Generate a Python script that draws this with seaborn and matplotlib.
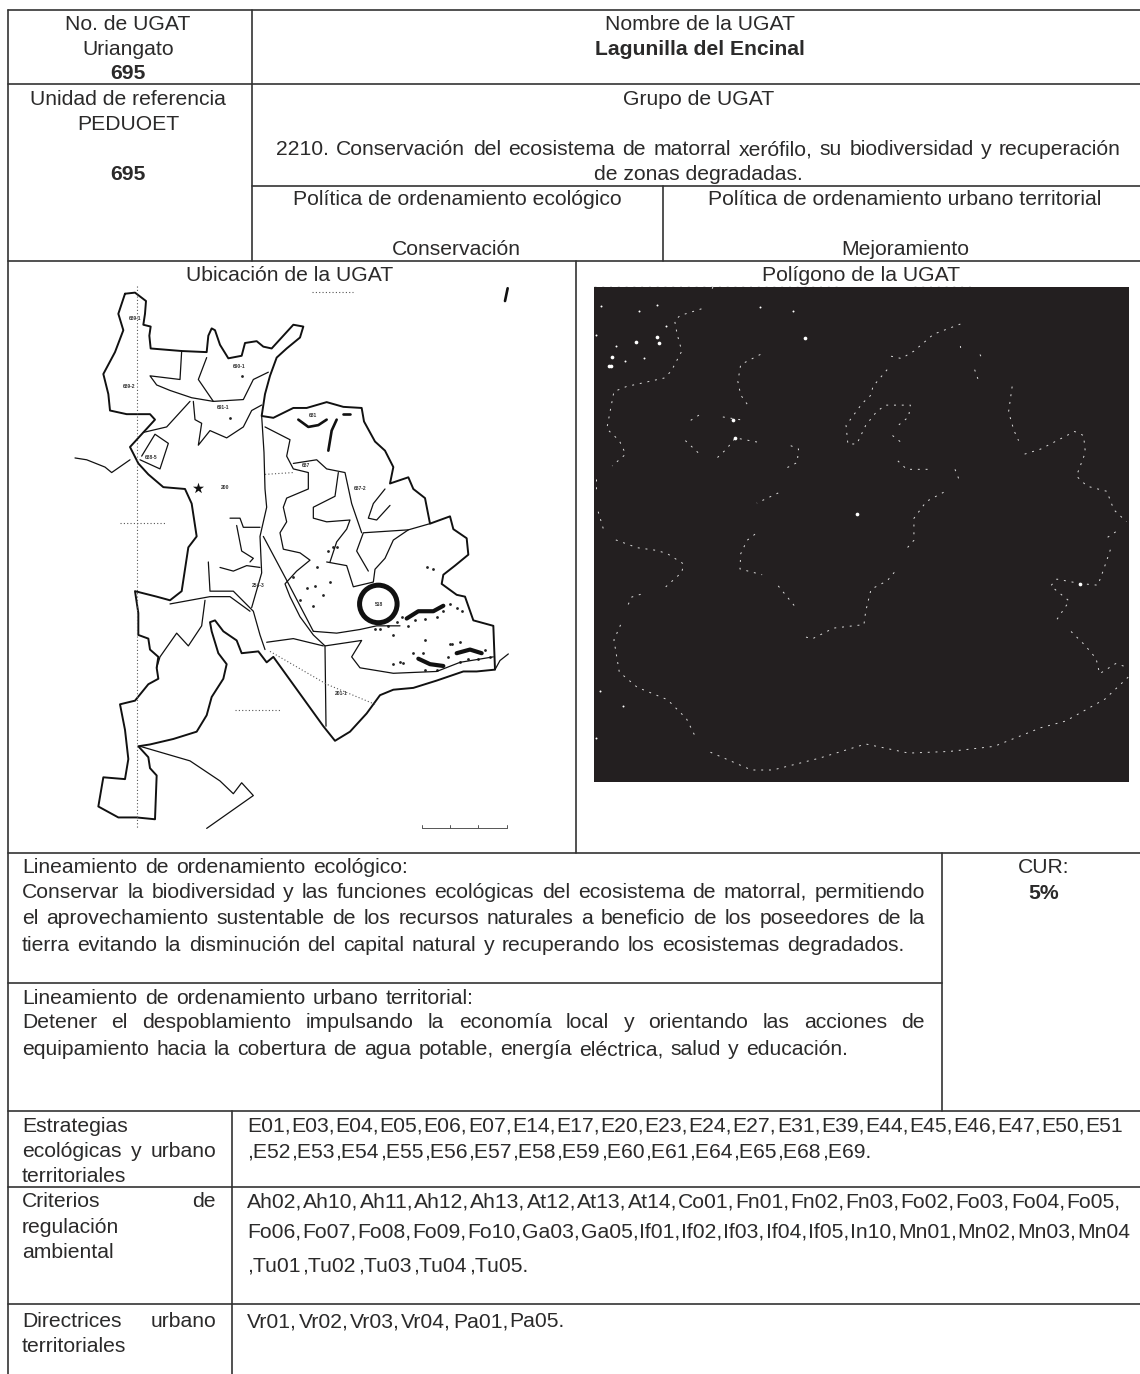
import matplotlib
matplotlib.use("Agg")
import matplotlib.pyplot as plt
import seaborn as sns

sns.set_theme(style="white")
plt.rcParams['font.family'] = ['Liberation Sans', 'DejaVu Sans']

INK = "#2b2a2a"
SIZE = 15.2
BASE = 6  # baseline sits this far under the line centre

# table rules (x0, x1, y) and (x, y0, y1), pixels of the scan
h_rules = [(8, 1140, 10), (8, 1140, 84), (252, 1140, 186), (8, 1140, 261), (8, 1140, 853),
           (8, 942, 983), (8, 1140, 1111), (8, 1140, 1187), (8, 1140, 1304)]
v_rules = [(8, 10, 1374), (252, 10, 261), (663, 186, 261), (576, 261, 853), (942, 853, 1111), (232, 1111, 1374)]

# centred text: label, x, y, bold
centered = [
    ("No. de UGAT", 128, 24, False), ("Uriangato", 128, 49, False), ("695", 128, 73, True),
    ("Unidad de referencia", 128, 99, False), ("PEDUOET", 128, 124, False), ("695", 128, 174, True),
    ("Nombre de la UGAT", 700, 24, False), ("Lagunilla del Encinal", 700, 49, True),
    ("Grupo de UGAT", 699, 99, False), ("de zonas degradadas.", 698, 174, False),
    ("Política de ordenamiento ecológico", 457, 199, False), ("Conservación", 456, 249, False),
    ("Política de ordenamiento urbano territorial", 905, 199, False), ("Mejoramiento", 905, 249, False),
    ("Ubicación de la UGAT", 290, 275, False), ("Polígono de la UGAT", 861, 275, False),
    ("CUR:", 1044, 867, False), ("5%", 1044, 893, True),
]

# lines stretched between two x limits: label, x0, x1, y
justified = [
    ("2210. Conservación del ecosistema de matorral xerófilo, su biodiversidad y recuperación", 276, 1121, 149),
    ("Lineamiento de ordenamiento ecológico:", 22, 408, 867),
    ("Conservar la biodiversidad y las funciones ecológicas del ecosistema de matorral, permitiendo", 22, 925, 892),
    ("el aprovechamiento sustentable de los recursos naturales a beneficio de los poseedores de la", 22, 925, 918),
    ("tierra evitando la disminución del capital natural y recuperando los ecosistemas degradados.", 22, 904, 945),
    ("Lineamiento de ordenamiento urbano territorial:", 22, 474, 998),
    ("Detener el despoblamiento impulsando la economía local y orientando las acciones de", 22, 925, 1022),
    ("equipamiento hacia la cobertura de agua potable, energía eléctrica, salud y educación.", 22, 848, 1049),
    ("Estrategias", 22, 128, 1126),
    ("ecológicas y urbano", 22, 216, 1151),
    ("territoriales", 22, 127, 1176),
    ("Criterios de", 22, 216, 1201),
    ("regulación", 22, 120, 1227),
    ("ambiental", 22, 115, 1252),
    ("Directrices urbano", 22, 216, 1321),
    ("territoriales", 22, 127, 1346),
]

# code lists, stretched after every comma
codes = [
    ("E01,E03,E04,E05,E06,E07,E14,E17,E20,E23,E24,E27,E31,E39,E44,E45,E46,E47,E50,E51", 247, 1123, 1126),
    (",E52,E53,E54,E55,E56,E57,E58,E59,E60,E61,E64,E65,E68,E69.", 247, 871, 1151),
    ("Ah02,Ah10,Ah11,Ah12,Ah13,At12,At13,At14,Co01,Fn01,Fn02,Fn03,Fo02,Fo03,Fo04,Fo05,", 247, 1120, 1201),
    ("Fo06,Fo07,Fo08,Fo09,Fo10,Ga03,Ga05,If01,If02,If03,If04,If05,In10,Mn01,Mn02,Mn03,Mn04", 247, 1130, 1232),
    (",Tu01,Tu02,Tu03,Tu04,Tu05.", 247, 528, 1266),
    ("Vr01,Vr02,Vr03,Vr04,Pa01,Pa05.", 247, 565, 1321),
]

map_outer = [(195,65),(225,62),(258,85),(255,120),(250,150),(272,155),(268,180),(272,215),(365,222),(440,225),
             (445,180),(455,160),(465,165),(480,205),(505,242),(545,235),(555,200),(590,195),(610,210),(635,215),
             (660,190),(685,165),(700,150),(730,155),(720,185),(680,215),(650,240),(630,290),(615,340),(605,400),
             (640,405),(700,378),(740,378),(800,362),(850,375),(905,378),(912,415),(945,470),(975,495),(1000,540),
             (990,585),(1045,568),(1060,600),(1095,625),(1110,695),(1170,675),(1180,710),(1220,735),(1225,780),
             (1185,810),(1150,835),(1145,860),(1190,890),(1215,895),(1240,960),(1300,975),(1305,1095),(1250,1100),
             (1210,1100),(1130,1125),(1060,1145),(1000,1150),(960,1165),(920,1215),(870,1265),(825,1290),(790,1250),
             (640,1060),(620,1075),(595,1045),(545,1050),(530,1015),(490,990),(465,960),(450,965),(455,990),
             (475,1050),(500,1080),(490,1120),(455,1170),(440,1220),(410,1265),(340,1285),(270,1300),(235,1305),
             (265,1335),(270,1365),(290,1385),(285,1505),(230,1500),(175,1500),(115,1470),(130,1390),(195,1395),
             (205,1340),(195,1260),(180,1190),(225,1180),(265,1135),(295,1120),(290,1090),(295,1060),(270,1040),
             (265,1010),(235,1000),(235,940),(225,880),(290,895),(330,905),(365,880),(375,820),(385,760),(410,730),
             (405,700),(395,640),(375,600),(310,595),(265,560),(235,530),(210,485),(250,445),(285,410),(270,395),
             (200,395),(150,385),(145,340),(130,285),(165,225),(190,165),(175,120),(195,65)]
map_inner = [
    [(605,400),(612,500),(615,600),(620,650),(600,730),(605,830),(575,925)],
    [(615,430),(690,465),(680,510),(700,545),(745,555),(745,600),(680,625),(670,650),(680,690),(660,720),(670,765),
     (720,775),(750,795),(710,825),(675,860),(690,895),(720,950),(760,1000),(795,1030),(798,1250)],
    [(610,730),(680,850),(760,990)],
    [(760,990),(830,995),(900,985),(950,975),(1020,975)],
    [(795,1030),(905,1015),(875,1060),(900,1090),(1000,1105),(1130,1100),(1200,1075),(1300,1060)],
    [(800,800),(860,810),(880,868),(940,855),(945,820),(975,790),(1000,740),(1045,712),(1110,695)],
    [(1045,712),(910,720),(890,770),(925,825)],
    [(700,530),(770,520),(800,545),(855,555),(875,640),(905,720)],
    [(835,555),(825,620),(760,650),(760,680),(800,690),(870,685),(860,710),(830,745),(810,800)],
    [(975,600),(940,640),(925,680),(950,685),(990,645)],
    [(365,222),(360,300),(270,290),(290,315),(330,330),(395,350),(460,360),(550,355),(580,300),(625,280)],
    [(440,240),(415,300),(460,360)],
    [(400,360),(405,410),(425,420),(415,480),(450,440),(500,460),(550,430),(575,385),(605,370)],
    [(250,445),(320,430),(355,395),(390,360)],
    [(245,510),(285,450),(325,475),(300,545),(240,520)],
    [(510,680),(540,680),(550,705),(600,705)],
    [(530,700),(545,770),(580,790),(570,800)],
    [(480,815),(520,825),(560,810),(600,815)],
    [(445,800),(450,880),(520,880),(580,935),(600,1000),(615,1040)],
    [(330,915),(450,895),(510,895),(570,935)],
    [(435,905),(425,975),(385,1030),(350,995),(300,1060),(290,1090)],
    [(620,1020),(700,1010),(790,1030)],
    [(240,1305),(390,1345),(480,1400),(520,1435),(545,1405),(580,1440),(440,1530)],
    [(45,515),(80,520),(135,540),(155,555),(210,520)],
    [(1305,1095),(1320,1070),(1345,1052)],
]
scale_bar = [(1085,1528),(1340,1528)]
scale_ticks = [1085, 1170, 1255, 1340]
map_dotted = [
    [(232,45),(232,1530)], [(180,692),(315,692)], [(525,1205),(660,1205)], [(755,60),(880,60)],
    [(630,1045),(800,1135),(945,1190)], [(615,560),(700,555)],
]
heavy_ridges = [
    [(1040,955),(1075,935),(1120,935),(1150,920)],
    [(1075,1065),(1110,1080),(1150,1085)],
    [(1190,1050),(1230,1040),(1265,1050)],
]
thin_ridges = [
    [(715,410),(745,430),(775,425),(800,410)], [(805,495),(815,440),(830,410)], [(850,395),(870,395)], [(1335,85),(1343,50)],
]
map_specks = [(700,840),(740,870),(765,865),(790,890),(770,815),(820,760),(1100,815),(1120,820),(960,985),(1000,1080),
              (1030,1078),(1170,1025),(1200,1020),(545,290),(510,405),(810,855),(720,905),(760,920),(1000,1000),
              (1010,965),(1025,950),(1045,975),(1065,960),(1095,955),(1130,950),(1150,935),(1170,915),(1190,925),(1205,935),
              (985,975),(945,985),(1060,1050),(1090,1050),(1095,1095),(1130,1095),(1165,1060),(1175,1025),(1200,1075),
              (1225,1065),(1255,1065),(1275,1040),(1290,1060),(1020,1075),(1095,1015),(830,760),(805,770)]
map_labels = [("689-1",225,132),("689-2",207,320),("691-1",488,377),("690-1",537,265),("688-5",275,515),("200",495,597),
              ("687-2",900,598),("681",760,400),("687",738,537),("518",958,917),("201-1",845,1160),("254-3",595,865)]

# polygon panel, dotted boundary (zoom coordinates)
poly_paths = [
    [(340,115),(280,135),(265,150),(272,190),(285,240),(255,300),(235,320),(130,345),(95,360),(85,415),(75,470),(110,505),(128,545),(90,580)],
    [(505,250),(450,280),(442,330),(450,370),(470,400)],
    [(310,445),(340,425)], [(400,435),(460,445)], [(295,505),(335,545)],
    [(385,555),(410,530),(435,497),(510,512)], [(590,520),(612,530),(608,570),(580,585)],
    [(1065,160),(990,190),(935,240),(900,262),(870,255)],
    [(860,295),(820,345),(815,370),(790,395),(745,460),(750,515),(775,515),(800,460),(830,420),(855,400),(925,400),(920,435),(885,465)],
    [(875,490),(905,515)], [(890,565),(915,590),(980,590)], [(1050,590),(1065,630)],
    [(1018,658),(970,685),(935,735),(935,800),(910,830)],
    [(880,895),(860,920),(815,945),(800,1010),(795,1050),(775,1052),(710,1060),(650,1092),(628,1085)],
    [(555,660),(495,690)], [(490,782),(468,800),(450,840),(448,885),(510,902)], [(555,935),(605,1000)],
    [(1065,225),(1068,245)], [(1120,250),(1128,268)], [(1105,295),(1115,325)],
    [(1210,345),(1200,420),(1215,475),(1228,505)],
    [(1245,545),(1290,530),(1385,478),(1410,490),(1415,540),(1390,610),(1420,640),(1475,655),(1495,710),(1530,745)],
    [(1500,775),(1465,800)],
    [(1485,828),(1465,890),(1450,933),(1400,928),(1335,915),(1318,935),(1370,980),(1335,1035)],
    [(1375,1070),(1415,1112),(1445,1150),(1455,1195),(1500,1165),(1530,1175)],
    [(1535,1205),(1470,1270),(1360,1335),(1290,1355),(1160,1410),(1035,1425),(920,1430),(800,1403),(670,1445),(540,1480),(480,1480),(360,1425)],
    [(320,1375),(298,1328),(245,1272),(160,1235),(110,1190),(95,1095),(120,1035)],
    [(135,990),(145,968),(185,955)],
    [(240,938),(285,895),(290,870),(245,840),(215,830),(160,822),(95,797)],
    [(65,765),(48,705)], [(45,620),(45,660)],
    [(40,48),(730,48)], [(935,48),(1110,48)], [(372,50),(366,68)],
]
poly_blobs = [(215,197),(222,215),(88,285),(80,285),(90,258),(630,200),(775,723),(1400,928),(158,213),(428,445),(435,497)]
poly_specks = [(60,108),(165,120),(215,103),(45,192),(240,165),(180,260),(125,270),(100,225),(120,1290),(55,1245),(45,1385),(505,110),(597,122)]


def map_xy(path):
    return [60 + p[0] / 3 for p in path], [270 + p[1] / 2.74 for p in path]


def poly_xy(path):
    return [580 + p[0] / 2.8 for p in path], [270 + p[1] / 2.96 for p in path]


def trace(xy, **kw):
    sns.lineplot(x=xy[0], y=xy[1], sort=False, estimator=None, ax=ax, **kw)


def spread(words, x0, x1, y):
    # place words so the line fills x0..x1 like the justified scan
    items = [ax.text(x0, y + BASE, w, fontsize=SIZE, color=INK, va="baseline", ha="left") for w in words]
    widths = [t.get_window_extent(renderer).width for t in items]
    gap = (x1 - x0 - sum(widths)) / max(len(words) - 1, 1)
    x = x0
    for t, w in zip(items, widths):
        t.set_x(x)
        x += w + gap


def code_tokens(label):
    if label.startswith(","):
        return ["," + w for w in label[1:].split(",")]
    parts = label.split(",")
    return [w + "," for w in parts[:-1]] + ([parts[-1]] if parts[-1] else [])


fig = plt.figure(figsize=(11.4, 13.74), dpi=100)
ax = fig.add_axes([0, 0, 1, 1])
ax.set_xlim(0, 1140)
ax.set_ylim(1374, 0)
ax.axis("off")
renderer = fig.canvas.get_renderer()

for x0, x1, y in h_rules:
    trace(([x0, x1], [y, y]), color="#333333", lw=1.2)
for x, y0, y1 in v_rules:
    trace(([x, x], [y0, y1]), color="#333333", lw=1.2)

for label, x, y, bold in centered:
    ax.text(x, y + BASE, label, fontsize=SIZE, color=INK, ha="center", va="baseline",
            fontweight="bold" if bold else "normal")
for label, x0, x1, y in justified:
    spread(label.split(" "), x0, x1, y)
for label, x0, x1, y in codes:
    spread(code_tokens(label), x0, x1, y)

# location map
trace(map_xy(map_outer), color="#111111", lw=1.4)
for path in map_inner:
    trace(map_xy(path), color="#111111", lw=0.9)
for path in map_dotted:
    trace(map_xy(path), color="#555555", lw=0.8, linestyle=(0, (1, 2)))
for path in heavy_ridges:
    trace(map_xy(path), color="#111111", lw=3)
for path in thin_ridges:
    trace(map_xy(path), color="#111111", lw=1.9)
trace(map_xy(scale_bar), color="#555555", lw=0.7)
for tick in scale_ticks:
    trace(map_xy([(tick, 1520), (tick, 1528)]), color="#555555", lw=0.7)
sx, sy = map_xy(map_specks)
sns.scatterplot(x=sx, y=sy, s=4, color="#222222", linewidth=0, ax=ax)
for label, x, y in map_labels:
    mx, my = map_xy([(x, y)])
    ax.text(mx[0], my[0], label, fontsize=3.6, fontweight="bold", color="#333333", ha="center", va="center")
cx, cy = map_xy([(955, 915)])
sns.scatterplot(x=cx, y=cy, s=730, marker="o", facecolor="none", edgecolor="#111111", linewidth=3.6, ax=ax)
hx, hy = map_xy([(413, 597)])
sns.scatterplot(x=hx, y=hy, s=70, marker="*", color="#111111", linewidth=0, ax=ax)

# polygon panel
ax.fill_between([594, 1129], 287, 782, color="#231f20", lw=0, zorder=2)
for path in poly_paths:
    trace(poly_xy(path), color="#dddddd", lw=0.7, linestyle=(0, (2, 6)), zorder=3)
bx, by = poly_xy(poly_blobs)
sns.scatterplot(x=bx, y=by, s=7, color="white", linewidth=0, zorder=4, ax=ax)
dx, dy = poly_xy(poly_specks)
sns.scatterplot(x=dx, y=dy, s=2, color="white", linewidth=0, zorder=4, ax=ax)

fig.savefig("out.png", dpi=100)
